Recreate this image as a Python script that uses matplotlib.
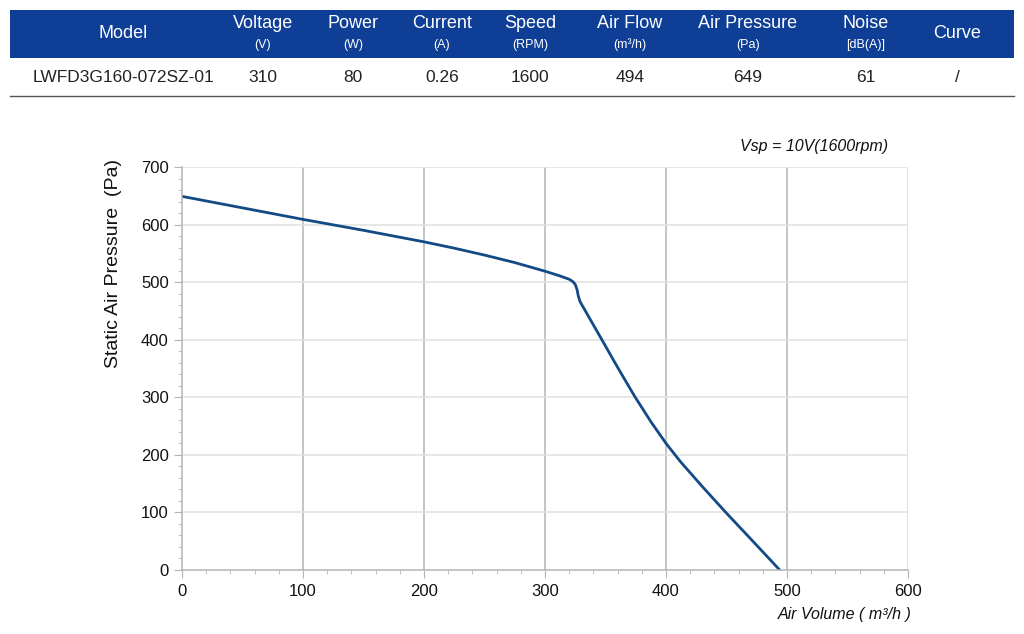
import matplotlib.pyplot as plt
from matplotlib.patches import Rectangle
from matplotlib.ticker import MultipleLocator

plt.rcParams['font.family'] = ['Liberation Sans', 'DejaVu Sans']

# table data
columns = ["Model", "Voltage", "Power", "Current", "Speed", "Air Flow", "Air Pressure", "Noise", "Curve"]
units = ["", "(V)", "(W)", "(A)", "(RPM)", "(m³/h)", "(Pa)", "[dB(A)]", ""]
row = ["LWFD3G160-072SZ-01", "310", "80", "0.26", "1600", "494", "649", "61", "/"]
col_x = [123, 263, 353, 442, 530, 630, 748, 866, 957]

# P-Q curve
air_volume = [0, 50, 100, 150, 200, 225, 250, 275, 300, 312, 320, 323, 325, 326.5, 327.5,
              329, 335, 347, 360, 374, 388, 400, 412, 430, 449, 470, 494]
pressure = [649, 629, 609, 590, 570, 559, 547, 534, 519, 511, 505, 501, 496, 487, 476,
            466, 444, 400, 352, 302, 256, 220, 188, 145, 101, 54, 0]

W, H = 1024, 634
fig = plt.figure(figsize=(W / 100, H / 100), dpi=100)
fig.patch.set_facecolor("white")

# overlay axes in pixel coordinates for the table
tab = fig.add_axes([0, 0, 1, 1])
tab.set_xlim(0, W)
tab.set_ylim(H, 0)
tab.axis("off")
tab.add_patch(Rectangle((10, 10), 1004, 48, color="#0e3e95", lw=0))
tab.plot([10, 1014], [96, 96], color="#555555", lw=1)

for i in range(len(columns)):
    if units[i]:
        tab.text(col_x[i], 24, columns[i], color="white", fontsize=13, ha="center", va="center")
        tab.text(col_x[i], 45, units[i], color="white", fontsize=9, ha="center", va="center")
    else:
        tab.text(col_x[i], 33, columns[i], color="white", fontsize=13, ha="center", va="center")
    tab.text(col_x[i], 77, row[i], color="#222222", fontsize=12.5, ha="center", va="center")

# chart
ax = fig.add_axes([182 / W, 1 - 570 / H, (908 - 182) / W, (570 - 167) / H])
ax.plot(air_volume, pressure, color="#124a86", lw=2, solid_capstyle="round", solid_joinstyle="round")
ax.set_xlim(0, 600)
ax.set_ylim(0, 700)
ax.xaxis.set_major_locator(MultipleLocator(100))
ax.xaxis.set_minor_locator(MultipleLocator(20))
ax.yaxis.set_major_locator(MultipleLocator(100))
ax.yaxis.set_minor_locator(MultipleLocator(20))

for x in range(100, 600, 100):
    ax.axvline(x, color="#b4b4b4", lw=1.1, zorder=0)
ax.axvline(600, color="#dcdcdc", lw=1.1, zorder=0)
for y in range(100, 800, 100):
    ax.axhline(y, color="#e0e0e0", lw=1.1, zorder=0)

for s in ["top", "right"]:
    ax.spines[s].set_visible(False)
for s in ["left", "bottom"]:
    ax.spines[s].set_color("#b4b4b4")
    ax.spines[s].set_linewidth(1.1)

ax.tick_params(which="major", length=6, color="#b4b4b4", labelsize=12, labelcolor="#111111")
ax.tick_params(which="minor", length=3, color="#b4b4b4")
ax.tick_params(axis="x", pad=4)

ax.set_ylabel("Static Air Pressure  (Pa)", fontsize=14, color="#111111")
ax.yaxis.set_label_coords(-0.083, 0.76)
fig.text(888 / W, 1 - 147 / H, "Vsp = 10V(1600rpm)", fontsize=11.5, style="italic",
         ha="right", va="center", color="#111111")
fig.text(912 / W, 1 - 614 / H, "Air Volume ( m³/h )", fontsize=11.5, style="italic",
         ha="right", va="center", color="#111111")

fig.savefig("out.png", dpi=100)
